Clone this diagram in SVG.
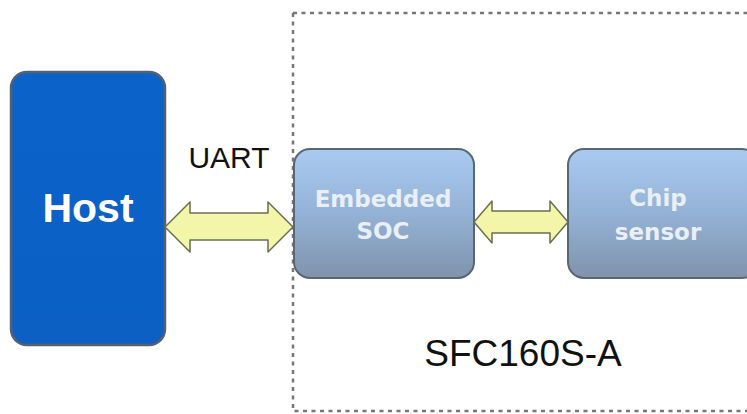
<svg xmlns="http://www.w3.org/2000/svg" width="747" height="414" viewBox="0 0 747 414">
<defs>
<linearGradient id="g" x1="0" y1="0" x2="0" y2="1">
<stop offset="0" stop-color="#a9caef"/>
<stop offset="0.5" stop-color="#94b2d6"/>
<stop offset="1" stop-color="#7f93ab"/>
</linearGradient>
<linearGradient id="hg" x1="0" y1="0" x2="0" y2="1">
<stop offset="0" stop-color="#0b62c9"/>
<stop offset="1" stop-color="#0c60c4"/>
</linearGradient>
</defs>
<style>
.lbl{font-family:"Liberation Sans",Arial,sans-serif;}
.box{fill:url(#g);stroke:#5a6676;stroke-width:2;}
.inner{font-family:"DejaVu Sans","Liberation Sans",sans-serif;font-weight:bold;fill:#e9eff7;font-size:23px;text-anchor:middle;}
.arrow{fill:#f3f5a8;stroke:#6b6e55;stroke-width:1.5;stroke-linejoin:round;}
</style>
<rect width="747" height="414" fill="#ffffff"/>
<g id="container">
<path d="M293 13 H747 M293 13 V411 H747" fill="none" stroke="#777" stroke-width="2.5" stroke-dasharray="4 4.5"/>
<text class="lbl" x="523" y="366" font-size="37" text-anchor="middle" fill="#111">SFC160S-A</text>
</g>
<g id="host">
<rect x="11" y="72" width="154" height="273" rx="16" fill="url(#hg)" stroke="#566070" stroke-width="2.5"/>
<text class="lbl" x="88" y="222" font-size="41" font-weight="bold" fill="#ffffff" text-anchor="middle">Host</text>
</g>
<g id="soc">
<rect class="box" x="294" y="149" width="180" height="129" rx="16"/>
<text class="inner" x="383" y="207">Embedded</text>
<text class="inner" x="383" y="239">SOC</text>
</g>
<g id="chip">
<rect class="box" x="568" y="149" width="190" height="129" rx="16"/>
<text class="inner" x="658" y="206">Chip</text>
<text class="inner" x="658" y="240">sensor</text>
</g>
<g id="connectors">
<text class="lbl" x="229" y="168" font-size="30" fill="#111" text-anchor="middle">UART</text>
<path class="arrow" d="M165 227 L190 202 L190 213 L268 213 L268 202 L293 227 L268 252 L268 240 L190 240 L190 252 Z"/>
<path class="arrow" d="M474 222 L492 201 L492 211 L550 211 L550 201 L568 222 L550 243 L550 233 L492 233 L492 243 Z"/>
</g>
</svg>
